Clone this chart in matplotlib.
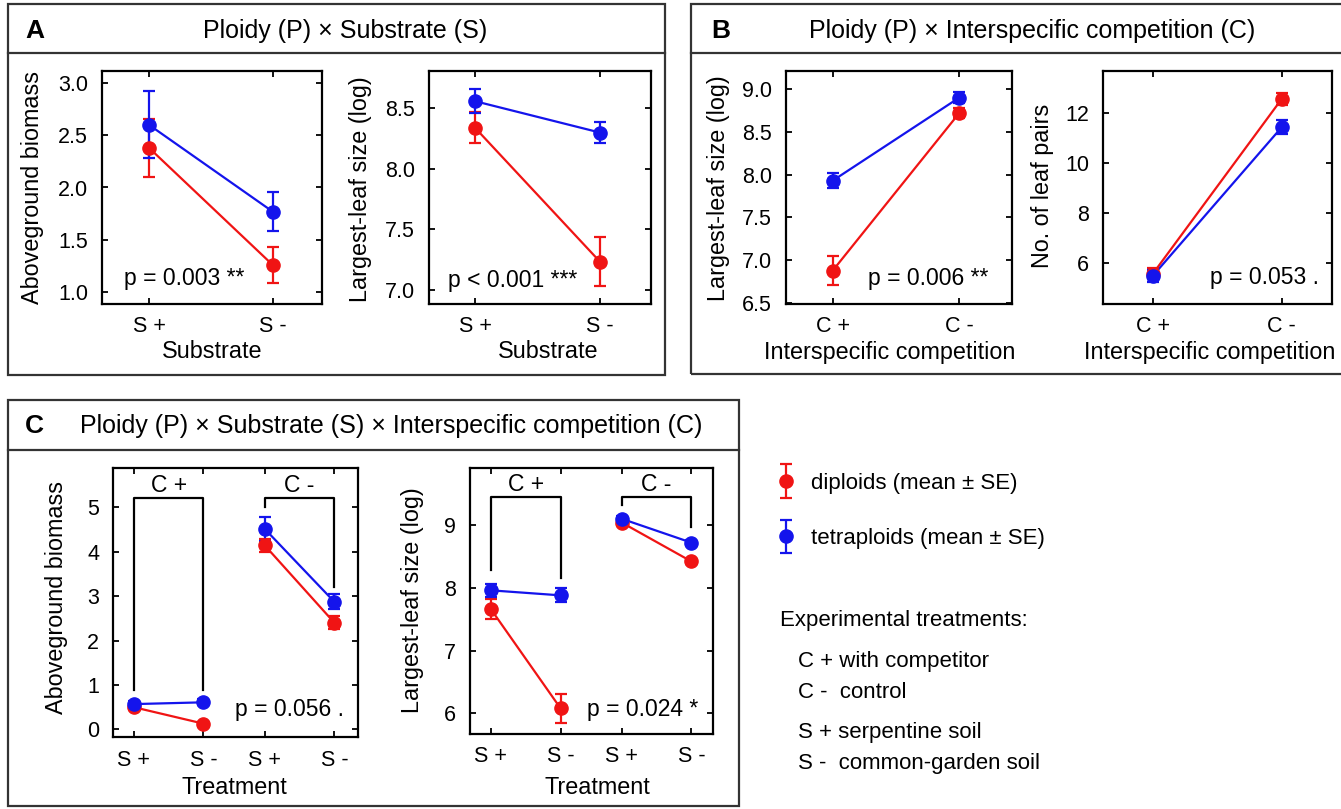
import matplotlib
matplotlib.use("Agg")
import matplotlib.pyplot as plt
from matplotlib.patches import Rectangle
from matplotlib.lines import Line2D
from matplotlib.container import ErrorbarContainer
from matplotlib.legend_handler import HandlerErrorbar

plt.rcParams['font.family'] = ['Liberation Sans', 'DejaVu Sans']

# ---------------- data ----------------
substrate_ticks = ['S +', 'S -']
competition_ticks = ['C +', 'C -']
treatment_ticks = ['S +', 'S -', 'S +', 'S -']
group_labels = ['C +', 'C -']

# A: Ploidy x Substrate
a_biomass_dip = [2.38, 1.26]
a_biomass_dip_se = [0.28, 0.175]
a_biomass_tet = [2.60, 1.77]
a_biomass_tet_se = [0.32, 0.19]

a_leaf_dip = [8.34, 7.23]
a_leaf_dip_se = [0.13, 0.205]
a_leaf_tet = [8.56, 8.30]
a_leaf_tet_se = [0.10, 0.09]

# B: Ploidy x Interspecific competition
b_leaf_dip = [6.88, 8.72]
b_leaf_dip_se = [0.17, 0.06]
b_leaf_tet = [7.93, 8.90]
b_leaf_tet_se = [0.085, 0.06]

b_pairs_dip = [5.55, 12.55]
b_pairs_dip_se = [0.22, 0.25]
b_pairs_tet = [5.47, 11.42]
b_pairs_tet_se = [0.24, 0.29]

# C: Ploidy x Substrate x Interspecific competition (C+ S+, C+ S-, C- S+, C- S-)
c_biomass_dip = [0.50, 0.13, 4.14, 2.40]
c_biomass_dip_se = [0.05, 0.04, 0.14, 0.15]
c_biomass_tet = [0.57, 0.61, 4.51, 2.87]
c_biomass_tet_se = [0.06, 0.07, 0.27, 0.17]

c_leaf_dip = [7.66, 6.08, 9.04, 8.42]
c_leaf_dip_se = [0.16, 0.23, 0.04, 0.04]
c_leaf_tet = [7.96, 7.88, 9.10, 8.72]
c_leaf_tet_se = [0.10, 0.11, 0.05, 0.04]

p_labels = {
    'a1': 'p = 0.003 **', 'a2': 'p < 0.001 ***',
    'b1': 'p = 0.006 **', 'b2': 'p = 0.053 .',
    'c1': 'p = 0.056 .', 'c2': 'p = 0.024 *',
}

# ---------------- styling ----------------
W, H = 1341, 809
RED = '#f01414'
BLUE = '#1414ec'
FS_TICK = 15.5
FS_LAB = 16.8
FS_P = 16.5
FS_TITLE = 18
FS_LETTER = 19
FS_LEG = 16
LW = 1.6
MS = 9.5
CAP = 4.5
BOX = '#333333'

fig = plt.figure(figsize=(W / 100, H / 100), dpi=100)


def fx(x):
    return x / W


def fy(y):
    return 1 - y / H


def add_axes_px(x0, y0, x1, y1):
    return fig.add_axes([fx(x0), fy(y1), (x1 - x0) / W, (y1 - y0) / H])


def style_axes(ax):
    for s in ax.spines.values():
        s.set_linewidth(LW)
        s.set_color('black')
    ax.tick_params(direction='in', length=4, width=1.3, top=True, right=True,
                   labelsize=FS_TICK, pad=10)
    ax.tick_params(axis='x', pad=9)


def errs(ax, x, y, se, color):
    return ax.errorbar(x, y, yerr=se, fmt='o', ls='none', color=color,
                       ms=MS, elinewidth=LW, capsize=CAP, capthick=LW, zorder=3)


def two_level_panel(ax, ticks, dip, dip_se, tet, tet_se):
    x = [1, 2]
    for color, vals, se in ((RED, dip, dip_se), (BLUE, tet, tet_se)):
        ax.plot(x, vals, color=color, lw=LW, zorder=2)
        errs(ax, x, vals, se, color)
    ax.set_xticks(x)
    ax.set_xticklabels(ticks)
    style_axes(ax)


def four_level_panel(ax, dip, dip_se, tet, tet_se):
    pos = [0, 1, 1.88, 2.88]
    handles = []
    for color, vals, se in ((RED, dip, dip_se), (BLUE, tet, tet_se)):
        for g in (0, 2):
            ax.plot(pos[g:g + 2], vals[g:g + 2], color=color, lw=LW, zorder=2)
        handles.append(errs(ax, pos, vals, se, color))
    ax.set_xticks(pos)
    ax.set_xticklabels(treatment_ticks)
    style_axes(ax)
    return pos, handles


def bracket(ax, x0, x1, ytop, yl, yr, label, ylab):
    ax.plot([x0, x0, x1, x1], [yl, ytop, ytop, yr], color='black', lw=LW, zorder=1)
    ax.text((x0 + x1) / 2, ylab, label, ha='center', va='center', fontsize=FS_P)


def ftext(x, y, s, **kw):
    kw.setdefault('fontsize', FS_LAB)
    return fig.text(fx(x), fy(y), s, **kw)


def ylab(x, y, s):
    ftext(x, y, s, rotation=90, ha='center', va='center')


def xlab(x, y, s):
    ftext(x, y, s, ha='center', va='center')


def ptext(x, y, s):
    ftext(x, y, s, fontsize=FS_P, va='baseline')


# ---------------- panel frames ----------------
def frame(x0, y0, x1, y1, yhead):
    fig.add_artist(Rectangle((fx(x0), fy(y1)), (x1 - x0) / W, (y1 - y0) / H,
                             transform=fig.transFigure, fill=False,
                             ec=BOX, lw=1.6))
    fig.add_artist(Line2D([fx(x0), fx(x1)], [fy(yhead), fy(yhead)],
                          transform=fig.transFigure, color=BOX, lw=1.6))


frame(8, 4, 665, 375, 53)
frame(691, 4, 1360, 374, 53)
frame(8, 400, 739, 806, 450)

ftext(25, 38, 'A', fontweight='bold', fontsize=FS_LETTER, va='baseline')
ftext(345, 38, 'Ploidy (P) × Substrate (S)', fontsize=FS_TITLE,
      ha='center', va='baseline')
ftext(711, 38, 'B', fontweight='bold', fontsize=FS_LETTER, va='baseline')
ftext(1032, 38, 'Ploidy (P) × Interspecific competition (C)', fontsize=FS_TITLE,
      ha='center', va='baseline')
ftext(25, 433, 'C', fontweight='bold', fontsize=FS_LETTER, va='baseline')
ftext(391, 433, 'Ploidy (P) × Substrate (S) × Interspecific competition (C)',
      fontsize=FS_TITLE, ha='center', va='baseline')

# ---------------- A ----------------
ax = add_axes_px(102, 71, 322, 304)
two_level_panel(ax, substrate_ticks, a_biomass_dip, a_biomass_dip_se,
                a_biomass_tet, a_biomass_tet_se)
ax.set_xlim(0.62, 2.40)
ax.set_ylim(0.885, 3.115)
ax.set_yticks([1.0, 1.5, 2.0, 2.5, 3.0])
ax.set_yticklabels([f'{v:.1f}' for v in [1.0, 1.5, 2.0, 2.5, 3.0]])
ylab(33, 188, 'Aboveground biomass')
xlab(212, 352, 'Substrate')
ptext(124, 285, p_labels['a1'])

ax = add_axes_px(429, 71, 651, 304)
two_level_panel(ax, substrate_ticks, a_leaf_dip, a_leaf_dip_se,
                a_leaf_tet, a_leaf_tet_se)
ax.set_xlim(0.632, 2.408)
ax.set_ylim(6.88, 8.81)
ax.set_yticks([7.0, 7.5, 8.0, 8.5])
ax.set_yticklabels([f'{v:.1f}' for v in [7.0, 7.5, 8.0, 8.5]])
ylab(360, 189, 'Largest-leaf size (log)')
xlab(548, 352, 'Substrate')
ptext(448, 287, p_labels['a2'])

# ---------------- B ----------------
ax = add_axes_px(786, 71, 1012, 304)
two_level_panel(ax, competition_ticks, b_leaf_dip, b_leaf_dip_se,
                b_leaf_tet, b_leaf_tet_se)
ax.set_xlim(0.631, 2.416)
ax.set_ylim(6.49, 9.21)
ax.set_yticks([6.5, 7.0, 7.5, 8.0, 8.5, 9.0])
ax.set_yticklabels([f'{v:.1f}' for v in [6.5, 7.0, 7.5, 8.0, 8.5, 9.0]])
ylab(718, 188, 'Largest-leaf size (log)')
xlab(890, 352, 'Interspecific competition')
ptext(868, 285, p_labels['b1'])

ax = add_axes_px(1103, 71, 1332, 304)
two_level_panel(ax, competition_ticks, b_pairs_dip, b_pairs_dip_se,
                b_pairs_tet, b_pairs_tet_se)
ax.set_xlim(0.615, 2.39)
ax.set_ylim(4.35, 13.67)
ax.set_yticks([6, 8, 10, 12])
ylab(1042, 186, 'No. of leaf pairs')
xlab(1210, 352, 'Interspecific competition')
ptext(1210, 284, p_labels['b2'])

# ---------------- C ----------------
ax = add_axes_px(113, 468, 358, 737)
pos, _ = four_level_panel(ax, c_biomass_dip, c_biomass_dip_se,
                          c_biomass_tet, c_biomass_tet_se)
ax.set_xlim(-0.30, 3.22)
ax.set_ylim(-0.17, 5.88)
ax.set_yticks([0, 1, 2, 3, 4, 5])
bracket(ax, pos[0], pos[1], 5.21, 0.88, 0.88, group_labels[0], 5.48)
bracket(ax, pos[2], pos[3], 5.21, 5.0, 3.2, group_labels[1], 5.48)
ylab(56, 598, 'Aboveground biomass')
xlab(234, 787, 'Treatment')
ptext(235, 716, p_labels['c1'])

ax = add_axes_px(470, 468, 713, 734)
pos, handles = four_level_panel(ax, c_leaf_dip, c_leaf_dip_se,
                                c_leaf_tet, c_leaf_tet_se)
ax.set_xlim(-0.30, 3.19)
ax.set_ylim(5.67, 9.91)
ax.set_yticks([6, 7, 8, 9])
bracket(ax, pos[0], pos[1], 9.45, 8.28, 8.15, group_labels[0], 9.65)
bracket(ax, pos[2], pos[3], 9.45, 9.32, 8.97, group_labels[1], 9.65)
ylab(412, 600, 'Largest-leaf size (log)')
xlab(597, 787, 'Treatment')
ptext(587, 716, p_labels['c2'])

# ---------------- legend and treatment key ----------------
fig.legend(handles, ['diploids (mean ± SE)', 'tetraploids (mean ± SE)'],
           loc='center left', bbox_to_anchor=(fx(775), fy(511)),
           frameon=False, fontsize=FS_LEG, handlelength=1.0, handletextpad=0.6,
           labelspacing=1.55, borderpad=0, borderaxespad=0,
           handler_map={ErrorbarContainer: HandlerErrorbar(yerr_size=0.75)})

ftext(780, 626, 'Experimental treatments:', fontsize=FS_LEG, va='baseline')
ftext(798, 667, 'C + with competitor', fontsize=FS_LEG, va='baseline')
ftext(798, 698, 'C -  control', fontsize=FS_LEG, va='baseline')
ftext(798, 738, 'S + serpentine soil', fontsize=FS_LEG, va='baseline')
ftext(798, 769, 'S -  common-garden soil', fontsize=FS_LEG, va='baseline')

fig.savefig('out.png', dpi=100)
